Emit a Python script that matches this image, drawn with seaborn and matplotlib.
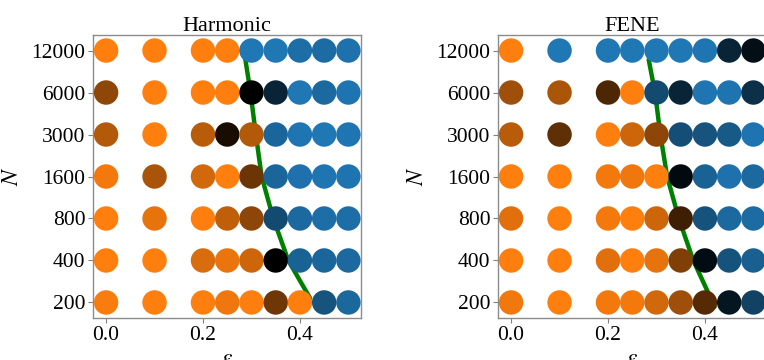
import numpy as np
import pandas as pd
import matplotlib
matplotlib.use("Agg")
import matplotlib.pyplot as plt
from matplotlib.colors import LinearSegmentedColormap
import seaborn as sns

sns.set_style("white")
plt.rcParams['font.family'] = ['Liberation Serif', 'DejaVu Serif']
plt.rcParams['mathtext.fontset'] = 'stix'
plt.rcParams['text.color'] = 'black'
plt.rcParams['axes.labelcolor'] = 'black'
plt.rcParams['xtick.labelcolor'] = 'black'
plt.rcParams['ytick.labelcolor'] = 'black'

eps = [0.0, 0.1, 0.2, 0.25, 0.3, 0.35, 0.4, 0.45, 0.5]
N_labels = ['200', '400', '800', '1600', '3000', '6000', '12000']

# -1 = orange phase, 0 = black (mixed), +1 = blue phase; rows bottom (200) -> top (12000)
harmonic_vals = [
    [-0.97, -1.0, -1.0, -0.93, -1.0, -0.43, -1.0, 0.70, 0.87],
    [-1.0, -1.0, -0.85, -0.92, -0.80, 0.0, 0.82, 0.85, 0.88],
    [-1.0, -0.90, -1.0, -0.75, -0.55, 0.62, 0.88, 0.92, 0.92],
    [-0.95, -0.66, -0.82, -1.0, -0.42, 0.85, 0.95, 0.98, 0.97],
    [-0.70, -1.0, -0.72, -0.10, -0.70, 0.85, 0.98, 1.0, 0.98],
    [-0.56, -1.0, -1.0, -1.0, 0.0, 0.30, 1.0, 0.88, 0.97],
    [-1.0, -1.0, -1.0, -1.0, 1.0, 1.0, 0.92, 0.90, 0.95],
]
fene_vals = [
    [-0.94, -1.0, -0.95, -0.95, -0.82, -0.62, -0.33, 0.18, 0.55],
    [-1.0, -1.0, -0.88, -1.0, -0.90, -0.50, 0.10, 0.68, 0.80],
    [-0.88, -1.0, -0.95, -1.0, -0.80, -0.25, 0.68, 0.88, 0.90],
    [-1.0, -1.0, -0.95, -0.93, -1.0, 0.08, 0.82, 0.95, 0.88],
    [-0.72, -0.37, -1.0, -0.80, -0.55, 0.65, 0.70, 0.75, 0.97],
    [-0.62, -0.67, -0.30, -1.0, 0.62, 0.30, 0.98, 0.97, 0.40],
    [-1.0, 1.0, 1.0, 1.0, 1.0, 1.0, 0.98, 0.30, 0.12],
]

# phase boundary (eps, row position)
harmonic_line_eps = [0.287, 0.298, 0.309, 0.321, 0.345, 0.376, 0.421]
harmonic_line_row = [5.82, 5.0, 4.0, 3.0, 2.0, 1.0, 0.10]
fene_line_eps = [0.284, 0.297, 0.308, 0.322, 0.346, 0.376, 0.420]
fene_line_row = [5.78, 5.0, 4.0, 3.0, 2.0, 1.0, -0.10]

cmap = LinearSegmentedColormap.from_list("ob", ["#ff7f0e", "#000000", "#1f77b4"])


def to_frame(vals):
    rows = []
    for i, n in enumerate(N_labels):
        for j, e in enumerate(eps):
            rows.append({"eps": e, "row": i, "val": vals[i][j]})
    return pd.DataFrame(rows)


fig = plt.figure(figsize=(7.64, 3.6), dpi=100)
ax1 = fig.add_axes([93 / 764, 42 / 360, 268 / 764, 283 / 360])
ax2 = fig.add_axes([498 / 764, 42 / 360, 268 / 764, 283 / 360])

panels = [
    (ax1, "Harmonic", harmonic_vals, harmonic_line_eps, harmonic_line_row),
    (ax2, "FENE", fene_vals, fene_line_eps, fene_line_row),
]

for ax, title, vals, lx, ly in panels:
    ax.plot(lx, ly, color="green", lw=3.2, zorder=1)
    sns.scatterplot(data=to_frame(vals), x="eps", y="row", hue="val",
                    palette=cmap, hue_norm=(-1, 1), s=310, linewidth=0,
                    legend=False, ax=ax, zorder=3)
    ax.set_xlim(-0.027, 0.526)
    ax.set_ylim(-0.37, 6.37)
    ax.set_xticks([0.0, 0.2, 0.4])
    ax.set_xticklabels(["0.0", "0.2", "0.4"])
    ax.set_yticks(range(len(N_labels)))
    ax.set_yticklabels(N_labels)
    ax.tick_params(axis="both", labelsize=15.5, length=3.5, width=0.8,
                   color="0.5", left=True, bottom=True, pad=2)
    for sp in ax.spines.values():
        sp.set_color("0.55")
        sp.set_linewidth(1.0)
    ax.set_title(title, fontsize=16, pad=3)
    ax.set_xlabel(r"$\varepsilon$", fontsize=17, labelpad=3)
    ax.set_ylabel(r"$N$", fontsize=17, labelpad=6)

fig.savefig("out.png", dpi=100)
